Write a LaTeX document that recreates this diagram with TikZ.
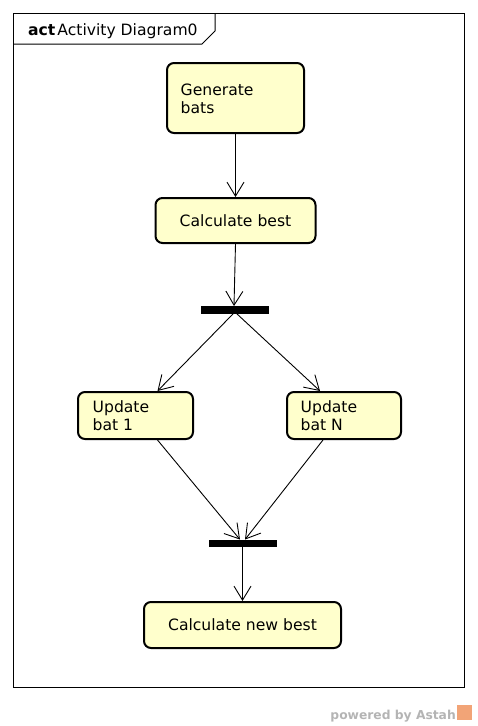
\documentclass[tikz,border=0pt]{standalone}
\usepackage{fontspec}
\setmainfont{DejaVu Sans}
\usetikzlibrary{arrows.meta}
\definecolor{actfill}{HTML}{FFFFCC}
\definecolor{wmgray}{HTML}{B4B4B4}
\definecolor{logoorange}{HTML}{F2A477}
\tikzset{
  actbox/.style={draw=black, line width=2pt, fill=actfill, rounded corners=7pt, inner sep=0pt,
    font=\fontsize{15.6}{18}\selectfont},
  lbltext/.style={inner sep=0pt, align=left, font=\fontsize{15.6}{18.5}\selectfont},
  bar/.style={fill=black, draw=none, inner sep=0pt, minimum width=68pt, minimum height=7.5pt},
  flow/.style={line width=0.9pt, -{Straight Barb[length=14pt, width=17pt, line width=0.9pt]}},
}
\begin{document}
\begin{tikzpicture}[x=1pt, y=-1pt]
\useasboundingbox (0,0) rectangle (477,726);
% frame
\draw[line width=1pt] (13,13) rectangle (464,687);
\draw[line width=1pt] (13,44) -- (202,44) -- (215,31) -- (215,13);
\node[inner sep=0pt, anchor=base west, font=\fontsize{15.6}{18}\selectfont] (title) at (28,35.5)
  {\textbf{act}\hspace{2pt}Activity Diagram0};
% nodes
\node[actbox, minimum width=137pt, minimum height=70pt] (gen) at (235.5,98) {};
\node[lbltext, anchor=north west] (gentext) at (180.5,83.6) {Generate\\bats};
\node[actbox, minimum width=160pt, minimum height=45pt] (cb) at (235.5,220.5) {Calculate best};
\node[bar] (fork) at (235,310) {};
\node[actbox, minimum width=115pt, minimum height=47pt] (upd1) at (135.5,415.5) {};
\node[lbltext, anchor=north west] (upd1text) at (92.5,400) {Update\\bat 1};
\node[actbox, minimum width=114pt, minimum height=47pt] (updN) at (344,415.5) {};
\node[lbltext, anchor=north west] (updNtext) at (300.5,400) {Update\\bat N};
\node[bar] (join) at (243,543.5) {};
\node[actbox, minimum width=197pt, minimum height=46pt] (cnb) at (242.5,625) {Calculate new best};
% connectors
\draw[flow] (gen.south) -- (cb.north);
\draw[flow] (cb.south) -- ([xshift=-1pt]fork.north);
\draw[flow] ([xshift=-2pt]fork.south) -- ([xshift=22pt]upd1.north);
\draw[flow] ([xshift=2pt]fork.south) -- ([xshift=-24pt]updN.north);
\draw[flow] ([xshift=22pt]upd1.south) -- ([xshift=-3pt]join.north);
\draw[flow] ([xshift=-21pt]updN.south) -- ([xshift=2pt]join.north);
\draw[flow] ([xshift=-0.5pt]join.south) -- (cnb.north);
% watermark
\node[inner sep=0pt, anchor=base east, text=wmgray, font=\fontsize{12.3}{14}\selectfont\bfseries] (wm) at (456,719) {powered by Astah};
\fill[logoorange] (457,705) rectangle (472,720);
\end{tikzpicture}
\end{document}
